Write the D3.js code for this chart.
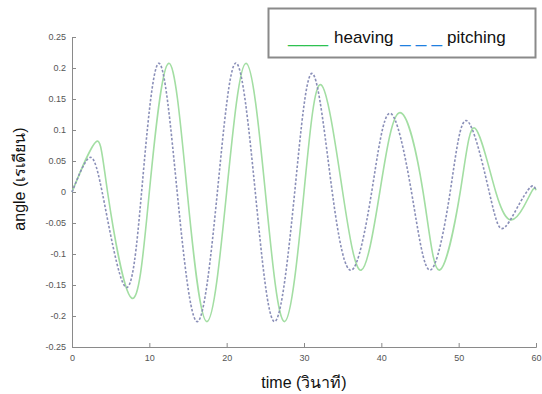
<!DOCTYPE html>
<html><head><meta charset="utf-8">
<script src="https://cdn.jsdelivr.net/npm/d3@7/dist/d3.min.js"></script>
<style>
html,body{margin:0;padding:0;background:#fff;}
svg{display:block;font-family:"Liberation Sans",Arial,sans-serif;}
</style></head>
<body>
<svg id="c" width="542" height="394"></svg>
<script>
// ---- data ----
const heavingTime  = [0, 3.1, 4.6, 7.7, 10.0, 12.5, 14.9, 17.45, 20.0, 22.5, 25.0, 27.5, 30.0, 32.2, 35.0, 37.4, 39.8, 42.4, 45.4, 47.5, 50.2, 52.1, 54.8, 56.8, 58.4, 59.6, 60];
const heavingValue = [0, 0.081, 0, -0.171, 0, 0.2075, 0, -0.209, 0, 0.2075, 0, -0.209, 0, 0.173, 0, -0.126, 0, 0.128, 0, -0.126, 0, 0.103, 0, -0.045, -0.024, 0.004, 0.003];
const pitchingTime  = [0, 2.1, 3.9, 6.9, 9.0, 11.2, 13.6, 16.2, 18.8, 21.2, 23.7, 26.2, 28.8, 31.1, 33.65, 36.15, 38.75, 41.1, 43.9, 46.3, 48.9, 51.05, 53.95, 55.6, 57.5, 59.3, 60];
const pitchingValue = [0, 0.054, 0, -0.153, 0, 0.2075, 0, -0.209, 0, 0.208, 0, -0.209, 0, 0.191, 0, -0.126, 0, 0.127, 0, -0.126, 0, 0.115, 0, -0.059, -0.027, 0.008, 0.002];
const xTicks = [0, 10, 20, 30, 40, 50, 60];
const yTicks = [-0.25, -0.2, -0.15, -0.1, -0.05, 0, 0.05, 0.1, 0.15, 0.2, 0.25];
const legendLabels = ["heaving", "pitching"];
const xTitle = "time (วินาที)";
const yTitle = "angle (เรเดียน)";

(function () {
const svg = d3.select("#c");
const mLeft = 72, mRight = 536, mTop = 37, mBottom = 347;
const x = d3.scaleLinear().domain([0, 60]).range([mLeft, mRight]);
const y = d3.scaleLinear().domain([-0.25, 0.25]).range([mBottom, mTop]);

const axisColor = "#8a8a8a";
const xAxis = d3.axisBottom(x).tickValues(xTicks).tickSize(-4).tickPadding(8).tickFormat(d3.format("d"));
const gx = svg.append("g").attr("transform", `translate(0,${mBottom})`).call(xAxis);
const yAxis = d3.axisLeft(y).tickValues(yTicks).tickSize(-4).tickPadding(6).tickFormat(d => d === 0 ? "0" : String(d));
const gy = svg.append("g").attr("transform", `translate(${mLeft},0)`).call(yAxis);
[gx, gy].forEach(g => {
  g.select(".domain").attr("stroke", axisColor).attr("stroke-width", 1);
  g.selectAll(".tick line").attr("stroke", axisColor);
  g.selectAll(".tick text").attr("fill", "#555").attr("font-size", 9).attr("font-family", "Liberation Sans, Arial, sans-serif");
});

const heaving = heavingTime.map((t, i) => [t, heavingValue[i]]);
const pitching = pitchingTime.map((t, i) => [t, pitchingValue[i]]);
const line = d3.line().x(d => x(d[0])).y(d => y(d[1])).curve(d3.curveNatural);

svg.append("path").datum(heaving).attr("d", line)
  .attr("fill", "none").attr("stroke", "#a3dea3").attr("stroke-width", 1.6);
svg.append("path").datum(pitching).attr("d", line)
  .attr("fill", "none").attr("stroke", "#8a8fb8").attr("stroke-width", 1.6)
  .attr("stroke-dasharray", "2.5,1.8");

// legend
svg.append("rect").attr("x", 268.5).attr("y", 8.5).attr("width", 267).attr("height", 49)
  .attr("fill", "#fff").attr("stroke", "#8a8a8a").attr("stroke-width", 2);
const lg = svg.append("g").attr("font-size", 17).attr("fill", "#111");
lg.append("text").attr("x", 288).attr("y", 43).attr("fill", "#2cc24f")
  .attr("textLength", 40).attr("lengthAdjust", "spacingAndGlyphs").text("_____");
lg.append("text").attr("x", 334).attr("y", 43).text(legendLabels[0]);
lg.append("text").attr("x", 400).attr("y", 43).attr("fill", "#1f80e0")
  .attr("textLength", 42).attr("lengthAdjust", "spacingAndGlyphs").text("_ _ _");
lg.append("text").attr("x", 447).attr("y", 43).text(legendLabels[1]);

// titles
svg.append("text").attr("x", 304).attr("y", 388).attr("text-anchor", "middle")
  .attr("font-size", 16).attr("fill", "#111").text(xTitle);
svg.append("text").attr("transform", "translate(25,179) rotate(-90)").attr("text-anchor", "middle")
  .attr("font-size", 16).attr("fill", "#111").text(yTitle);
})();
</script>
</body></html>
